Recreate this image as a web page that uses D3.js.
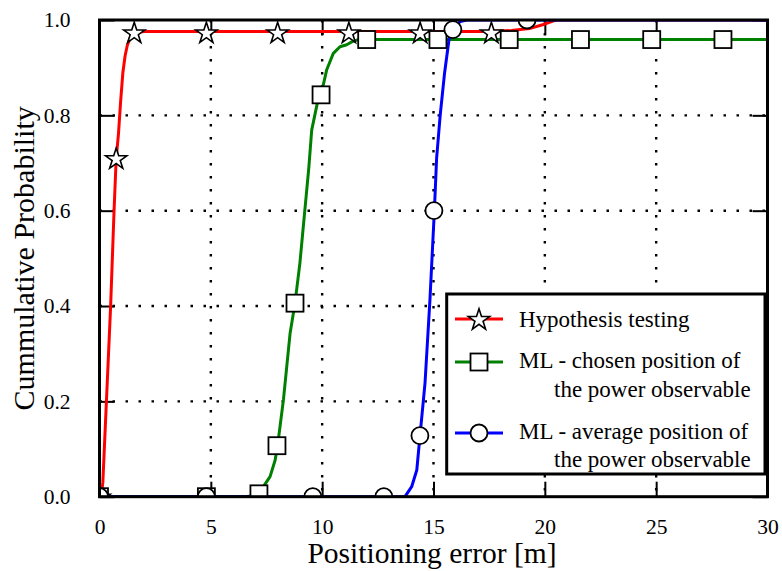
<!DOCTYPE html>
<html>
<head>
<meta charset="utf-8">
<script src="https://cdn.jsdelivr.net/npm/d3@7"></script>
<style>
  html, body { margin: 0; padding: 0; background: #fff; }
  svg { display: block; }
  text { font-family: "Liberation Serif", "Times New Roman", serif; fill: #000; }
</style>
</head>
<body>
<svg id="chart" width="782" height="571"></svg>
<script>
// ---------- data ----------
const xTicks = [0, 5, 10, 15, 20, 25, 30];
const yTicks = [0.0, 0.2, 0.4, 0.6, 0.8, 1.0];
const xTitle = "Positioning error [m]";
const yTitle = "Cummulative Probability";

const seriesNames = ["Hypothesis testing", "ML - chosen position of|the power observable", "ML - average position of|the power observable"];

// Hypothesis testing (red)
const htX = [0, 0.1, 0.15, 0.5, 0.65, 0.75, 0.85, 0.95, 1.05, 1.15, 1.25, 1.4, 1.55, 2.0, 10, 17.5, 18.5, 19.3, 19.9, 20.2, 20.5, 30];
const htY = [0, 0.01, 0.03, 0.40, 0.595, 0.71, 0.76, 0.83, 0.89, 0.925, 0.947, 0.965, 0.973, 0.976, 0.976, 0.976, 0.978, 0.982, 0.99, 0.995, 1.0, 1.0];
const htMarkX = [0, 0.75, 1.56, 4.8, 8.0, 11.2, 14.4, 17.6];
const htMarkY = [0, 0.71, 0.974, 0.974, 0.974, 0.974, 0.974, 0.974];

// ML - chosen position (green)
const mlcX = [0, 6.46, 7.0, 7.16, 7.36, 7.66, 7.89, 8.03, 8.26, 8.56, 8.78, 9.0, 9.2, 9.4, 9.53, 9.78, 9.95, 10.2, 10.5, 10.8, 11.1, 11.33, 11.62, 30];
const mlcY = [0, 0, 0.002, 0.006, 0.021, 0.042, 0.077, 0.119, 0.203, 0.343, 0.406, 0.49, 0.59, 0.69, 0.769, 0.825, 0.843, 0.895, 0.930, 0.944, 0.948, 0.954, 0.959, 0.959];
const mlcMarkX = [0, 4.8, 7.16, 7.97, 8.78, 9.95, 12.0, 15.2, 18.4, 21.6, 24.8, 28.0];
const mlcMarkY = [0, 0, 0.006, 0.107, 0.406, 0.843, 0.959, 0.959, 0.959, 0.959, 0.959, 0.959];

// ML - average position (blue)
const mlaX = [0, 13.72, 14.02, 14.25, 14.39, 14.62, 14.84, 15.04, 15.14, 15.3, 15.5, 15.7, 15.87, 16.2, 16.5, 30];
const mlaY = [0, 0, 0.021, 0.056, 0.126, 0.239, 0.413, 0.601, 0.71, 0.80, 0.89, 0.96, 0.98, 0.997, 1.0, 1.0];
const mlaMarkX = [0, 4.8, 9.58, 12.77, 14.39, 15.02, 15.87, 19.2];
const mlaMarkY = [0, 0, 0, 0, 0.128, 0.600, 0.980, 1.0];

const colors = ["#ff0000", "#008000", "#0000ff"];
const markerTypes = ["star", "square", "circle"];

// ---------- layout ----------
const svg = d3.select("#chart");
const L = 99.5, R = 767.5, T = 20, B = 496.7;
const x = d3.scaleLinear().domain([0, 30]).range([L, R]);
const y = d3.scaleLinear().domain([0, 1]).range([B, T]);

svg.append("defs").append("clipPath").attr("id", "plotclip")
  .append("rect").attr("x", L).attr("y", T).attr("width", R - L).attr("height", B - T);

// grid
const grid = svg.append("g");
xTicks.filter(d => d > 0 && d < 30).forEach(d => {
  grid.append("line").attr("x1", x(d)).attr("x2", x(d)).attr("y1", T).attr("y2", B)
    .attr("stroke", "#000").attr("stroke-width", 2.4).attr("stroke-dasharray", "2.5,10.5");
});
yTicks.filter(d => d > 0 && d < 1).forEach(d => {
  grid.append("line").attr("x1", L).attr("x2", R).attr("y1", y(d)).attr("y2", y(d))
    .attr("stroke", "#000").attr("stroke-width", 2.4).attr("stroke-dasharray", "2.5,10.5");
});

// axes ticks (inward, all four sides) via d3 axes
const tl = 15;
svg.append("g").attr("transform", `translate(0,${B})`)
  .call(d3.axisBottom(x).tickValues(xTicks).tickSize(-tl).tickPadding(tl + 7).tickFormat(d3.format("d")))
  .call(g => g.select(".domain").remove())
  .call(g => g.selectAll("line").attr("stroke-width", 2))
  .call(g => g.selectAll("text").style("font-size", "21.5px"));
svg.append("g").attr("transform", `translate(0,${T})`)
  .call(d3.axisTop(x).tickValues(xTicks).tickSize(-tl).tickFormat(""))
  .call(g => g.select(".domain").remove())
  .call(g => g.selectAll("line").attr("stroke-width", 2));
svg.append("g").attr("transform", `translate(${L},0)`)
  .call(d3.axisLeft(y).tickValues(yTicks).tickSize(-tl).tickPadding(tl + 14).tickFormat(d3.format(".1f")))
  .call(g => g.select(".domain").remove())
  .call(g => g.selectAll("line").attr("stroke-width", 2))
  .call(g => g.selectAll("text").style("font-size", "21.5px"));
svg.append("g").attr("transform", `translate(${R},0)`)
  .call(d3.axisRight(y).tickValues(yTicks).tickSize(-tl).tickFormat(""))
  .call(g => g.select(".domain").remove())
  .call(g => g.selectAll("line").attr("stroke-width", 2));

// marker drawer
const star = d3.symbol().type(d3.symbolStar).size(140);
function drawMarker(g, type, cx, cy) {
  if (type === "star") {
    g.append("path").attr("d", star()).attr("transform", `translate(${cx},${cy + 1}) `)
      .attr("fill", "#fff").attr("stroke", "#000").attr("stroke-width", 1.6).attr("stroke-linejoin", "miter");
  } else if (type === "square") {
    g.append("rect").attr("x", cx - 8.5).attr("y", cy - 8.5).attr("width", 17).attr("height", 17)
      .attr("fill", "#fff").attr("stroke", "#000").attr("stroke-width", 1.8);
  } else {
    g.append("circle").attr("cx", cx).attr("cy", cy).attr("r", 8.5)
      .attr("fill", "#fff").attr("stroke", "#000").attr("stroke-width", 1.8);
  }
}

// series
const plot = svg.append("g").attr("clip-path", "url(#plotclip)");
const line = d3.line().x(d => x(d[0])).y(d => y(d[1]));
const series = [
  { xs: htX, ys: htY, mx: htMarkX, my: htMarkY },
  { xs: mlcX, ys: mlcY, mx: mlcMarkX, my: mlcMarkY },
  { xs: mlaX, ys: mlaY, mx: mlaMarkX, my: mlaMarkY }
];
series.forEach((s, i) => {
  plot.append("path").datum(d3.zip(s.xs, s.ys)).attr("d", line)
    .attr("fill", "none").attr("stroke", colors[i]).attr("stroke-width", 3).attr("stroke-linejoin", "round");
});
series.forEach((s, i) => {
  const mg = plot.append("g");
  s.mx.forEach((mx, j) => drawMarker(mg, markerTypes[i], x(mx), y(s.my[j])));
});

// frame
svg.append("rect").attr("x", L).attr("y", T).attr("width", R - L).attr("height", B - T)
  .attr("fill", "none").attr("stroke", "#000").attr("stroke-width", 3);

// axis titles
svg.append("text").attr("x", 432).attr("y", 563).attr("text-anchor", "middle")
  .style("font-size", "29.5px").text(xTitle);
svg.append("text").attr("transform", `translate(34,${(T + B) / 2}) rotate(-90)`).attr("text-anchor", "middle")
  .style("font-size", "30px").text(yTitle);

// legend
const lg = svg.append("g");
lg.append("rect").attr("x", 446.7).attr("y", 294).attr("width", 318.3).attr("height", 180)
  .attr("fill", "#fff").attr("stroke", "#000").attr("stroke-width", 3);
const rowY = [319, 362, 433];
const baseY = [[326.7], [368.3, 396.7], [439.3, 466.7]];
seriesNames.forEach((name, i) => {
  lg.append("line").attr("x1", 455).attr("x2", 503).attr("y1", rowY[i]).attr("y2", rowY[i])
    .attr("stroke", colors[i]).attr("stroke-width", 3);
  drawMarker(lg, markerTypes[i], 479, rowY[i]);
  name.split("|").forEach((part, k) => {
    lg.append("text").attr("x", k === 0 ? 519 : 554).attr("y", baseY[i][k])
      .style("font-size", "23px").text(part);
  });
});
</script>
</body>
</html>
